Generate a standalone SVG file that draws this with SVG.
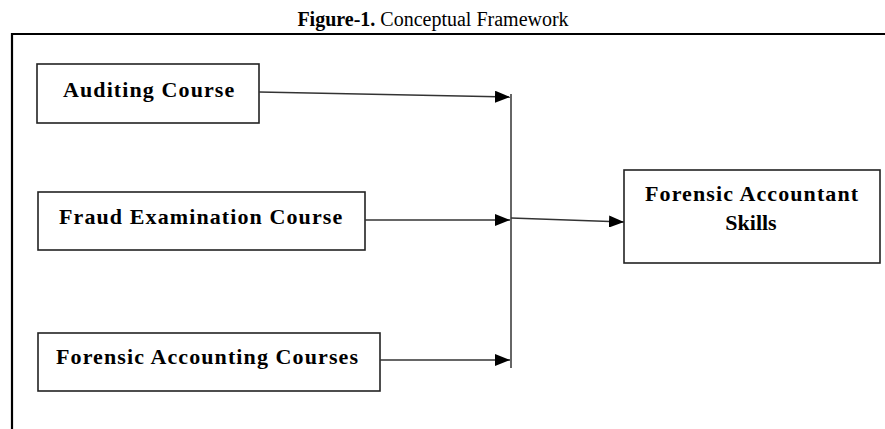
<svg xmlns="http://www.w3.org/2000/svg" width="885" height="429" viewBox="0 0 885 429">
<style>
.box{fill:#fff;stroke:#222;stroke-width:1.6}
.lbl{font-family:"Liberation Serif","Times New Roman",serif;font-weight:bold;font-size:22px;letter-spacing:1.1px;fill:#000}
.conn{stroke:#333;stroke-width:1.5;fill:none}
.title{font-family:"Liberation Serif","Times New Roman",serif;font-size:20px;fill:#000}
</style>
<defs>
<marker id="ah" markerUnits="userSpaceOnUse" markerWidth="15" markerHeight="12" viewBox="0 0 15 12" refX="15" refY="6" orient="auto">
<path d="M0,0 L15,6 L0,12 z" fill="#000"/>
</marker>
</defs>
<rect width="885" height="429" fill="#fff"/>
<text class="title" x="433" y="26" text-anchor="middle"><tspan font-weight="bold">Figure-1.</tspan> Conceptual Framework</text>
<path d="M12,429 V34 H885" stroke="#000" stroke-width="2.2" fill="none"/>
<g id="auditing">
<rect class="box" x="37" y="64" width="222" height="59"/>
<text class="lbl" x="63" y="97">Auditing Course</text>
</g>
<g id="fraud">
<rect class="box" x="38" y="192" width="327" height="58"/>
<text class="lbl" x="59" y="224">Fraud Examination Course</text>
</g>
<g id="forensic-courses">
<rect class="box" x="38" y="333" width="342" height="58"/>
<text class="lbl" x="56" y="364">Forensic Accounting Courses</text>
</g>
<g id="skills">
<rect class="box" x="624" y="170" width="256" height="93"/>
<text class="lbl" x="645" y="201">Forensic Accountant</text>
<text class="lbl" x="751" y="230" text-anchor="middle" style="letter-spacing:0">Skills</text>
</g>
<g id="connectors">
<line class="conn" x1="511" y1="94" x2="511" y2="368"/>
<line class="conn" x1="259" y1="92" x2="510" y2="97" marker-end="url(#ah)"/>
<line class="conn" x1="365" y1="220" x2="510" y2="220" marker-end="url(#ah)"/>
<line class="conn" x1="380" y1="360" x2="510" y2="360" marker-end="url(#ah)"/>
<line class="conn" x1="511" y1="218" x2="624" y2="222" marker-end="url(#ah)"/>
</g>
</svg>
